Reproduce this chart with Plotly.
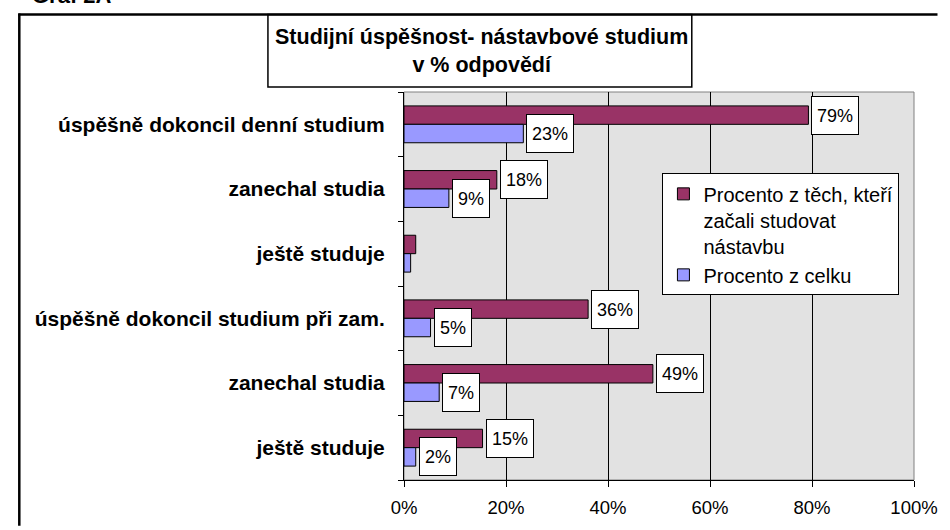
import plotly.graph_objects as go

# ---- data ----
categories = [
    "úspěšně dokoncil denní studium",
    "zanechal studia",
    "ještě studuje",
    "úspěšně dokoncil studium při zam.",
    "zanechal studia",
    "ještě studuje",
]
pct_started = [79.3, 18.2, 2.3, 36.1, 48.8, 15.4]
pct_total = [23.4, 8.8, 1.3, 5.2, 6.9, 2.3]
labels_started = ["79%", "18%", "", "36%", "49%", "15%"]
labels_total = ["23%", "9%", "", "5%", "7%", "2%"]
x_tick_vals = [0, 20, 40, 60, 80, 100]
x_tick_text = ["0%", "20%", "40%", "60%", "80%", "100%"]
series_started = "Procento z těch, kteří<br>začali studovat<br>nástavbu"
series_total = "Procento z celku"
title_lines = "Studijní úspěšnost- nástavbové studium<br>v % odpovědí"
corner_text = "Graf 2A"

FONT = "Liberation Sans, Arial, sans-serif"
positions = list(range(len(categories)))
BARGAP = 0.43
half = (1 - BARGAP) / 4

# plot area in pixels
L, R, T, B = 404, 25, 92, 47
W, H = 950, 530
PW, PH = W - L - R, H - T - B


def px(x):
    return (x - L) / PW


def py(y):
    return (H - B - y) / PH


fig = go.Figure()
fig.add_trace(go.Bar(
    orientation="h", y=positions, x=pct_started, name=series_started,
    marker=dict(color="#993366", line=dict(color="black", width=1)),
))
fig.add_trace(go.Bar(
    orientation="h", y=positions, x=pct_total, name=series_total,
    marker=dict(color="#9999FF", line=dict(color="black", width=1)),
))

label_font = dict(family=FONT, size=18, color="black")
annotations = []
for pos, v, t in zip(positions, pct_started, labels_started):
    if t:
        annotations.append(dict(x=v, y=pos - half, xref="x", yref="y", text=t,
                                showarrow=False, xanchor="left", yanchor="middle",
                                xshift=3, bgcolor="white", bordercolor="black",
                                borderwidth=1, borderpad=5, height=27, font=label_font))
for pos, v, t in zip(positions, pct_total, labels_total):
    if t:
        annotations.append(dict(x=v, y=pos + half, xref="x", yref="y", text=t,
                                showarrow=False, xanchor="left", yanchor="middle",
                                xshift=3, bgcolor="white", bordercolor="black",
                                borderwidth=1, borderpad=5, height=27, font=label_font))

# title text
annotations.append(dict(x=px(483), y=py(51), xref="paper", yref="paper",
                        text="<b>" + title_lines + "</b>", showarrow=False,
                        xanchor="center", yanchor="middle",
                        font=dict(family=FONT, size=21.5, color="black")))
# partly visible caption above the chart frame
annotations.append(dict(x=px(22), y=py(9), xref="paper", yref="paper",
                        text="<b>" + corner_text + "</b>", showarrow=False,
                        xanchor="left", yanchor="bottom",
                        font=dict(family=FONT, size=22, color="black")))

shapes = [
    # outer chart border (left and top edges; the rest lies outside the picture)
    dict(type="line", xref="paper", yref="paper",
         x0=px(11), x1=px(11), y0=py(529), y1=py(13),
         line=dict(color="black", width=2.5), layer="above"),
    dict(type="line", xref="paper", yref="paper",
         x0=px(10), x1=px(949), y0=py(14), y1=py(14),
         line=dict(color="black", width=2.5), layer="above"),
    # title box
    dict(type="rect", xref="paper", yref="paper",
         x0=px(265), x1=px(698), y0=py(87), y1=py(14),
         line=dict(color="black", width=1.5), fillcolor="white", layer="below"),
    # plot-area border (gray)
    dict(type="rect", xref="paper", yref="paper", x0=0, x1=1, y0=0, y1=1,
         line=dict(color="#808080", width=1), fillcolor="rgba(0,0,0,0)", layer="below"),
]

fig.update_layout(
    width=W, height=H,
    margin=dict(l=L, r=R, t=T, b=B),
    paper_bgcolor="white",
    plot_bgcolor="#e2e2e2",
    barmode="group", bargap=BARGAP, bargroupgap=0,
    font=dict(family=FONT, color="black"),
    showlegend=True,
    legend=dict(x=px(668), y=py(174), xanchor="left", yanchor="top",
                bgcolor="white", bordercolor="black", borderwidth=1,
                font=dict(family=FONT, size=20, color="black"),
                valign="top", traceorder="normal"),
    annotations=annotations,
    shapes=shapes,
)

fig.update_xaxes(
    range=[0, 100], tickvals=x_tick_vals, ticktext=x_tick_text,
    showgrid=True, gridcolor="black", gridwidth=1,
    showline=True, linecolor="black", linewidth=1,
    ticks="outside", ticklen=6, tickcolor="black", ticklabelstandoff=5,
    tickfont=dict(family=FONT, size=18.5, color="black"),
    zeroline=False, fixedrange=True,
)
fig.update_yaxes(
    range=[len(categories) - 0.5, -0.5],
    tickvals=positions,
    ticktext=["<b>" + c + "</b>" for c in categories],
    tickfont=dict(family=FONT, size=21, color="black"),
    showline=True, linecolor="black", linewidth=1,
    ticks="outside", ticklen=14, tickcolor="rgba(0,0,0,0)",
    minor=dict(tickmode="array", tickvals=[p - 0.5 for p in positions] + [positions[-1] + 0.5],
               ticks="outside", ticklen=5, tickcolor="black", showgrid=False),
    showgrid=False, zeroline=False, fixedrange=True,
)

fig.write_html("out.html", config={"displayModeBar": False},
               post_script="document.body.style.margin='0';")
